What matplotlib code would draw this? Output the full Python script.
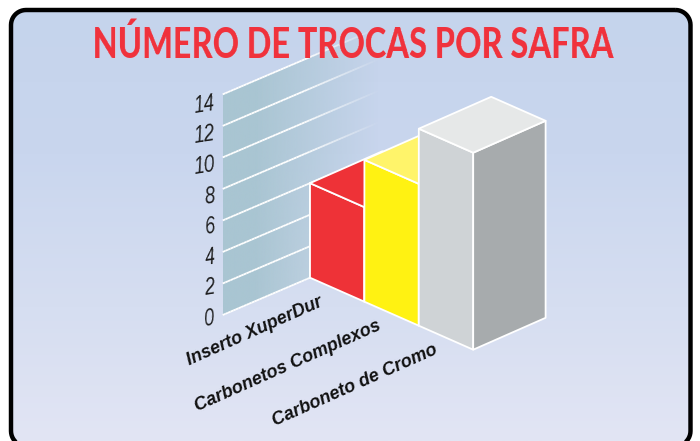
import numpy as np
import matplotlib
matplotlib.use("Agg")
import matplotlib.pyplot as plt
from matplotlib.patches import PathPatch, Polygon
from matplotlib.path import Path
from matplotlib.collections import LineCollection
from matplotlib.colors import LinearSegmentedColormap, to_rgb

title = "NÚMERO DE TROCAS POR SAFRA"
categories = ["Inserto XuperDur", "Carbonetos Complexos", "Carboneto de Cromo"]
values = [6, 9, 12.5]
front_colors = ["#ee3237", "#fff212", "#cfd3d6"]
side_colors = ["#ee3237", "#fff212", "#a7abad"]
top_colors = ["#ee3237", "#fff46a", "#e6e8e8"]
y_ticks = [0, 2, 4, 6, 8, 10, 12, 14]

# oblique projection, in pixels
O = np.array([310.0, 277.7])      # front-left foot of first bar
W = np.array([54.4, 24.0])        # one bar width
D = np.array([72.4, -31.9])       # one bar depth
U = 15.76                         # pixels per value unit
WALL0 = np.array([222.7, 315.0])
WALL_SLOPE = -0.427
FADE_X = 378.0

def P(i, d, v):
    return O + i * W + d * D + np.array([0, -v * U])

def condense(sx, anchor=0.5):
    """agg filter that narrows a text horizontally, as no condensed font is installed."""
    def f(img, dpi):
        h, w, c = img.shape
        nw = max(1, int(round(w * sx)))
        src = np.arange(w)
        dst = np.linspace(0, w - 1, nw)
        out = np.zeros((h, nw, c), dtype=float)
        for ch in range(c):
            for r in range(h):
                out[r, :, ch] = np.interp(dst, src, img[r, :, ch])
        return out, int(round((w - nw) * anchor)), 0
    return f

def rounded_rect(x0, y0, x1, y1, r):
    """Rounded rectangle with circular corners."""
    corners = [((x1, y0), -90), ((x1, y1), 0), ((x0, y1), 90), ((x0, y0), 180)]
    cx = [x1 - r, x1 - r, x0 + r, x0 + r]
    cy = [y0 + r, y1 - r, y1 - r, y0 + r]
    verts = []
    for (c, a0), xc, yc in zip(corners, cx, cy):
        ang = np.radians(np.linspace(a0, a0 + 90, 12))
        verts.extend(zip(xc + r * np.cos(ang), yc + r * np.sin(ang)))
    verts.append(verts[0])
    codes = [Path.MOVETO] + [Path.LINETO] * (len(verts) - 2) + [Path.CLOSEPOLY]
    return Path(verts, codes)

fig = plt.figure(figsize=(7.0, 4.41), dpi=100, facecolor="white")
ax = fig.add_axes([0, 0, 1, 1])
ax.set_xlim(0, 700)
ax.set_ylim(441, 0)
ax.axis("off")

# panel with gradient
panel_path = rounded_rect(11, 10, 690.5, 446, 15)
panel = PathPatch(panel_path, fc="none", ec="none", zorder=1)
ax.add_patch(panel)
cm = LinearSegmentedColormap.from_list("bg", ["#c5d4ec", "#c9d6ee", "#d6def1", "#e2e5f4"])
grad = np.array([0, 0.45, 0.72, 1.0])
g = np.interp(np.linspace(0, 1, 256), [0, 0.45, 0.75, 1], grad)[:, None]
im = ax.imshow(g, cmap=cm, vmin=0, vmax=1, extent=(11, 691, 441, 10), aspect="auto", zorder=1)
im.set_clip_path(panel)
ax.set_xlim(0, 700)
ax.set_ylim(441, 0)
ax.add_patch(PathPatch(panel_path, fc="none", ec="black", lw=3.2, zorder=6))

# back wall, fading to the right
wall_rgb = to_rgb("#a9c5d2")
xs = np.array([0.0, 0.2, 1.0])
al = np.array([1.0, 1.0, 0.0])
rgba = np.zeros((1, 256, 4))
rgba[..., :3] = wall_rgb
rgba[..., 3] = np.interp(np.linspace(0, 1, 256), xs, al)
top_y = WALL0[1] - max(y_ticks) * U
dx = FADE_X - WALL0[0]
wall_poly = Polygon([WALL0, (FADE_X, WALL0[1] + WALL_SLOPE * dx),
                     (FADE_X, top_y + WALL_SLOPE * dx), (WALL0[0], top_y)],
                    closed=True, fc="none", ec="none", transform=ax.transData)
ax.add_patch(wall_poly)
w = ax.imshow(rgba, extent=(WALL0[0], FADE_X, 320, 20), aspect="auto", zorder=2)
w.set_clip_path(wall_poly)
ax.set_xlim(0, 700)
ax.set_ylim(441, 0)

# grid lines with fade
for v in y_ticks:
    y0 = WALL0[1] - v * U
    xe = np.linspace(WALL0[0], FADE_X, 60)
    ye = y0 + WALL_SLOPE * (xe - WALL0[0])
    pts = np.column_stack([xe, ye])
    segs = np.stack([pts[:-1], pts[1:]], axis=1)
    a = np.clip((FADE_X - xe[:-1]) / (FADE_X - 300), 0, 1)
    cols = np.ones((len(segs), 4))
    cols[:, 3] = a
    ax.add_collection(LineCollection(segs, colors=cols, linewidths=1.3, zorder=3))

# left edge of bars on the wall
ax.plot(*zip(P(0, 0, 0), P(0, 0, values[0])), color="white", lw=1.3, zorder=3.5)

# bars, back to front is left to right
for i, v in enumerate(values):
    z = 4 + i * 0.1
    kw = dict(closed=True, ec="white", lw=1.3, joinstyle="round", zorder=z)
    ax.add_patch(Polygon([P(i, 0, 0), P(i + 1, 0, 0), P(i + 1, 0, v), P(i, 0, v)],
                         fc=front_colors[i], **kw))
    ax.add_patch(Polygon([P(i + 1, 0, 0), P(i + 1, 1, 0), P(i + 1, 1, v), P(i + 1, 0, v)],
                         fc=side_colors[i], **kw))
    ax.add_patch(Polygon([P(i, 0, v), P(i + 1, 0, v), P(i + 1, 1, v), P(i, 1, v)],
                         fc=top_colors[i], **kw))

# text
t = ax.text(353.5, 45, title, color="#f0323c", fontsize=30, fontweight=900,
            family="Lato", ha="center", va="center", zorder=7)
tw = t.get_window_extent(fig.canvas.get_renderer()).width
t.set_agg_filter(condense(min(1.0, 521.0 / tw)))
for v in y_ticks:
    lab = ax.text(216, 318.5 - v * 15.27, str(v), family="Liberation Sans",
                  style="italic", fontsize=17, color="#1a1a1a", ha="right", va="center",
                  rotation=7, zorder=7)
    lab.set_agg_filter(condense(0.8, anchor=1.0))
label_centers = [(255, 331), (288, 366), (355, 385)]
for name, (x, y) in zip(categories, label_centers):
    ax.text(x, y, name, family="Liberation Sans", style="italic", fontweight="bold",
            fontsize=13, color="#111111", ha="center", va="center", rotation=24, zorder=7)

fig.savefig("out.png", dpi=100, facecolor="white")
